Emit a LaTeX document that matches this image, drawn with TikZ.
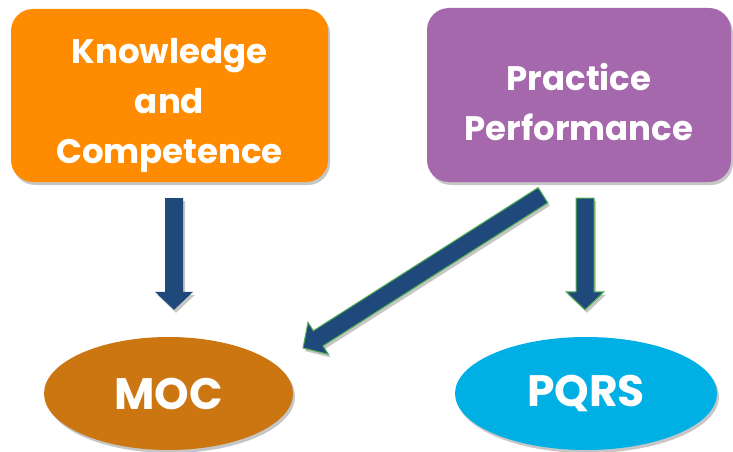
\documentclass[tikz,border=0pt]{standalone}
\usepackage{fontspec}
\setmainfont{Poppins}
\usetikzlibrary{calc,shadows,shapes.geometric}
\definecolor{kcorange}{RGB}{255,140,0}
\definecolor{pppurple}{RGB}{166,104,172}
\definecolor{mocbrown}{RGB}{204,118,18}
\definecolor{pqrsblue}{RGB}{0,176,228}
\definecolor{arrowblue}{RGB}{31,73,122}
\definecolor{arrowgreen}{RGB}{84,180,84}
\tikzset{
  shade/.style={drop shadow={opacity=0.45,shadow xshift=2pt,shadow yshift=-3pt}},
  topbox/.style={rounded corners=22pt,inner sep=0pt,align=center,text=white,
    font=\bfseries\fontsize{34}{50}\selectfont,shade},
  oval/.style={ellipse,inner sep=0pt,text=white,font=\bfseries\fontsize{44}{44}\selectfont,shade},
  blockarrow/.style={fill=arrowblue,shade},
  greenedge/.style={draw=arrowgreen,line width=1pt},
}
\newcommand{\blockarr}[4]{% #1 start, #2 end, #3 head base coordinate, #4 style
  \path[#4] ($(#1)!9pt!90:(#2)$) -- ($(#3)!9pt!90:(#2)$) -- ($(#3)!19pt!90:(#2)$) -- (#2)
    -- ($(#3)!19pt!-90:(#2)$) -- ($(#3)!9pt!-90:(#2)$) -- ($(#1)!9pt!-90:(#2)$) -- cycle;}
\newcommand{\topstrut}[1]{\rule{0pt}{#1}}
\begin{document}
\begin{tikzpicture}[x=1pt,y=1pt]
\useasboundingbox (0,0) rectangle (733,-452);
\node[topbox,fill=kcorange,minimum width=317pt,minimum height=173pt] (kc) at (169.5,-95.5)
  {\topstrut{45pt}Knowledge\\and\\Competence};
\node[topbox,fill=pppurple,minimum width=304pt,minimum height=174pt] (pp) at (579,-95)
  {\topstrut{41pt}Practice\\Performance};
\node[oval,fill=mocbrown,minimum width=249pt,minimum height=113pt] (moc) at (168.5,-393.5) {MOC};
\node[oval,fill=pqrsblue,minimum width=262pt,minimum height=113pt] (pqrs) at (586,-393.5) {PQRS};
% left arrow
\coordinate (a1) at ($(kc.south)+(4.5,-16)$);
\coordinate (b1) at ($(moc.north)+(5.5,27)$);
\coordinate (h1) at ($(b1)!18pt!(a1)$);
\blockarr{a1}{b1}{h1}{blockarrow}
% right arrow
\coordinate (a2) at ($(pp.south)+(6,-16)$);
\coordinate (b2) at ($(pqrs.north)+(-1,27)$);
\coordinate (h2) at ($(b2)!18pt!(a2)$);
\blockarr{a2}{b2}{h2}{blockarrow,greenedge}
% diagonal arrow
\coordinate (a3) at ($(pp.south)+(-36,-13)$);
\coordinate (b3) at ($(moc.center)+(134.5,45.5)$);
\coordinate (h3) at ($(b3)!18pt!(a3)$);
\blockarr{a3}{b3}{h3}{blockarrow,greenedge}
\end{tikzpicture}
\end{document}
